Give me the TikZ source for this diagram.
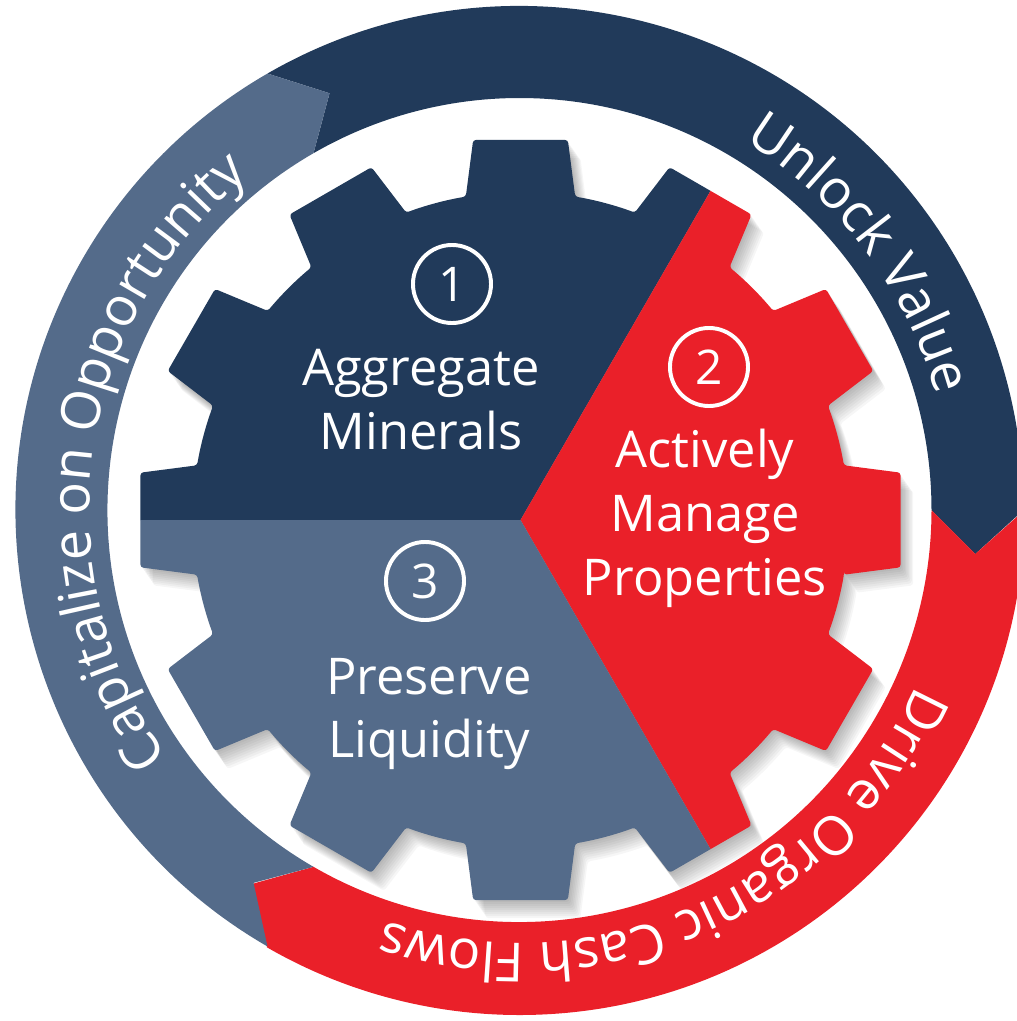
\documentclass[tikz,border=0pt]{standalone}
\usepackage{fontspec}
\setmainfont{Open Sans}
\usetikzlibrary{decorations.text}
\definecolor{ringnavy}{HTML}{213A5A}
\definecolor{ringred}{HTML}{EA2029}
\definecolor{ringslate}{HTML}{546B8A}
% gear outline: 12 teeth, root radius 328, tip radius 383
\newcommand{\gearpath}{(-9.6:328) \foreach \t in {0,30,...,330} {-- ({\t-7.1}:383) -- ({\t+7.1}:383) -- ({\t+9.6}:328) arc[start angle=\t+9.6, end angle=\t+20.4, radius=328]} -- cycle}
\tikzset{
  numring/.style={circle, draw=white, line width=2.8pt, minimum size=1.95cm, inner sep=0pt, text=white, font=\fontsize{34}{40}\selectfont},
  geartext/.style={align=center, text=white, font=\fontsize{36}{45.5}\selectfont},
  ringtext/.style={decorate, decoration={text along path, text align=center, text={|\fontsize{38.5}{42}\selectfont\color{white}|#1}}}
}
\begin{document}
\begin{tikzpicture}[x=0.025cm,y=0.025cm]
\useasboundingbox (0,0) rectangle (1017,-1021);
\clip (0,0) rectangle (1017,-1021);
% soft shadow of the gear
\begin{scope}[shift={(520.5,-520)}]
\foreach \s in {2,4,...,18} \fill[black,opacity=0.035,rounded corners=2pt,shift={(0.7*\s,-\s)}] \gearpath;
\end{scope}
% outer ring
\begin{scope}[shift={(519.5,-510)}]
\fill[ringnavy] (120:504) arc[start angle=120, end angle=0, radius=504] -- (-5.5:458) -- (0:412) arc[start angle=0, end angle=120, radius=412] -- (114.5:458) -- cycle;
\fill[ringred] (0:505) arc[start angle=0, end angle=-120, radius=505] -- (-125.5:459) -- (-120:412) arc[start angle=-120, end angle=0, radius=412] -- (-5.5:458) -- cycle;
\fill[ringslate] (240:504) arc[start angle=240, end angle=120, radius=504] -- (114.5:458) -- (120:412) arc[start angle=120, end angle=240, radius=412] -- (234.5:458) -- cycle;
\path[ringtext={Unlock Value}] (77:432) arc[start angle=77, end angle=-3, radius=432];
\path[ringtext={Drive Organic Cash Flows}] (-6:433) arc[start angle=-6, end angle=-126, radius=433];
\path[ringtext={Capitalize on Opportunity}] (232:430) arc[start angle=232, end angle=112, radius=430];
\end{scope}
% gear in three parts
\begin{scope}[shift={(520.5,-520)}]
\clip[rounded corners=2pt] \gearpath;
\fill[ringnavy] (0,0) -- (180:420) arc[start angle=180, end angle=60, radius=420] -- cycle;
\fill[ringred] (0,0) -- (60:420) arc[start angle=60, end angle=-60, radius=420] -- cycle;
\fill[ringslate] (0,0) -- (-60:420) arc[start angle=-60, end angle=-180, radius=420] -- cycle;
\end{scope}
\node[numring] (one) at (452,-284) {1};
\node[geartext] (aggregate) at (421,-400) {Aggregate\\Minerals};
\node[numring] (two) at (709,-367) {2};
\node[geartext] (manage) at (705,-518) {Actively\\Manage\\Properties};
\node[numring] (three) at (425,-581) {3};
\node[geartext] (preserve) at (429,-714) {Preserve\\Liquidity};
\end{tikzpicture}
\end{document}
